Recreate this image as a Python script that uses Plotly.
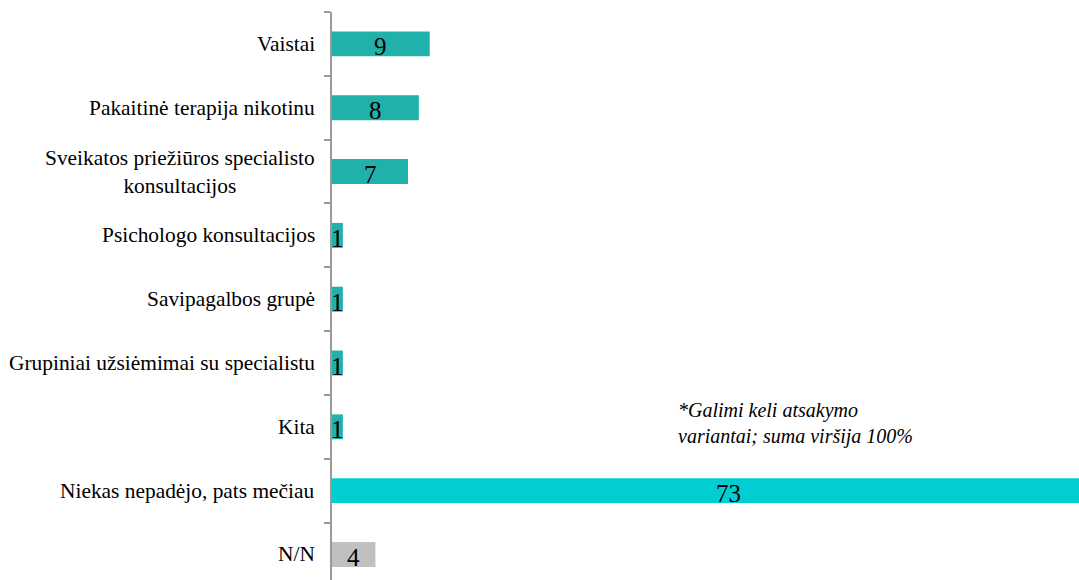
import plotly.graph_objects as go

categories = [
    "Vaistai",
    "Pakaitinė terapija nikotinu",
    "Sveikatos priežiūros specialisto<br>konsultacijos",
    "Psichologo konsultacijos",
    "Savipagalbos grupė",
    "Grupiniai užsiėmimai su specialistu",
    "Kita",
    "Niekas nepadėjo, pats mečiau",
    "N/N",
]
values = [9, 8, 7, 1, 1, 1, 1, 73, 4]
colors = ["#20B2AA"] * 7 + ["#00CED1", "#C0C0C0"]
note = "*Galimi keli atsakymo<br>variantai; suma viršija 100%"

FONT = "Liberation Serif"

fig = go.Figure()
fig.add_trace(go.Bar(
    y=categories, x=values, orientation="h",
    marker=dict(color=colors, line=dict(width=0)),
    width=0.39, showlegend=False, hoverinfo="skip",
))

# value labels centred on the full bar length, nudged slightly down as in the reference
for c, v in zip(categories, values):
    fig.add_annotation(
        x=v / 2, xref="x", y=c, yref="y", xanchor="center", yanchor="middle",
        yshift=-3, text=str(v), showarrow=False,
        font=dict(family=FONT, size=25, color="black"),
    )

for c in categories:
    fig.add_annotation(
        x=0, xref="paper", y=c, yref="y", xanchor="right", xshift=-15,
        text=c, showarrow=False, align="center",
        font=dict(family=FONT, size=21.4, color="black"),
    )

fig.add_annotation(
    x=0.46, xref="paper", y=5.95, yref="y", xanchor="left", yanchor="middle",
    text=note, showarrow=False, align="left",
    font=dict(family=FONT, size=20, color="black", style="italic"),
)

fig.update_layout(
    width=1079, height=580,
    margin=dict(l=332, r=0, t=12, b=0),
    paper_bgcolor="white", plot_bgcolor="white",
    xaxis=dict(range=[0, 68.8], visible=False, fixedrange=True),
    yaxis=dict(
        range=[8.40, -0.5], showticklabels=False, fixedrange=True,
        showline=True, linecolor="#9A9A9A", linewidth=2,
        ticks="outside", ticklen=6, tickcolor="#9A9A9A", tickwidth=2,
        tickson="boundaries", showgrid=False, zeroline=False,
    ),
    font=dict(family=FONT),
    hovermode=False,
)

fig.write_html(
    "out.html",
    config={"displayModeBar": False},
    post_script="document.body.style.margin='0';document.body.style.overflow='hidden';",
)
